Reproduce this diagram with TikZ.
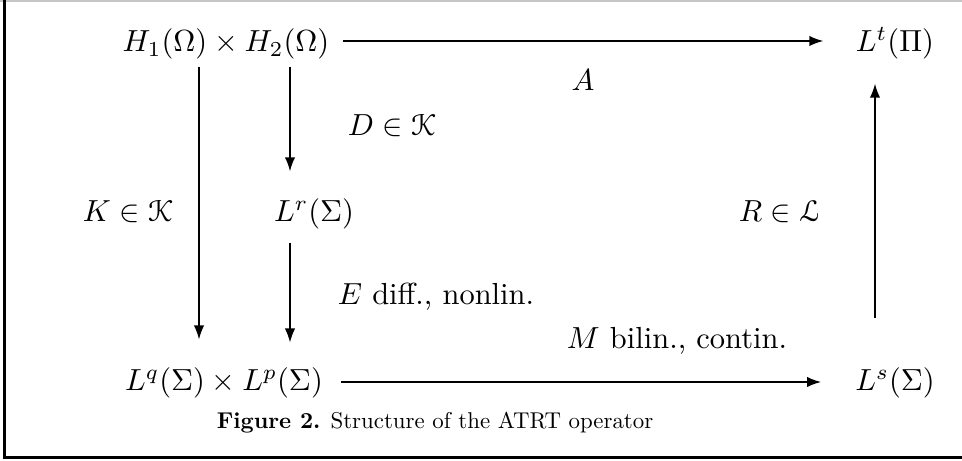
\documentclass[tikz,border=0pt]{standalone}
\usepackage{eucal}
\usetikzlibrary{arrows.meta,calc}
\begin{document}
\begin{tikzpicture}[x=0.328pt,y=-0.328pt,
  lbl/.style={inner sep=0pt, anchor=base},
  arr/.style={line width=0.5pt,-{Latex[length=4.6pt,width=3.4pt]}}]
\useasboundingbox (0,0) rectangle (962,461);
% frame
\draw[gray!45, line width=0.7pt] (0,0.6) -- (962,0.6);
\draw[line width=0.7pt] (4.5,0) -- (4.5,457.5) -- (962,457.5);
% spaces
\node[lbl] (H)   at (226,52)  {$H_1(\Omega)\times H_2(\Omega)$};
\node[lbl] (Lt)  at (895,52)  {$L^t(\Pi)$};
\node[lbl] (Lr)  at (314,222) {$L^r(\Sigma)$};
\node[lbl] (Lqp) at (224,391) {$L^q(\Sigma)\times L^p(\Sigma)$};
\node[lbl] (Ls)  at (895,391) {$L^s(\Sigma)$};
% labels
\node[lbl] (lA) at (583,91)  {$A$};
\node[lbl] (lD) at (392,136) {$D\in\mathcal{K}$};
\node[lbl] (lK) at (128,222) {$K\in\mathcal{K}$};
\node[lbl] (lR) at (780,222) {$R\in\mathcal{L}$};
\node[lbl] (lE) at (436,305) {$E$ diff., nonlin.};
\node[lbl] (lM) at (677,349) {$M$ bilin., contin.};
\node[lbl] (cap) at (435,429) {\scalebox{0.75}{\textbf{Figure 2.} Structure of the ATRT operator}};
% guide coordinates
\coordinate (ytop) at (0,41);
\coordinate (ybot) at (0,382);
\coordinate (xK) at (199,0);
\coordinate (xD) at (290,0);
\coordinate (xR) at (875,0);
% arrows
\draw[arr, shorten <=4.3pt, shorten >=10.5pt] (H.east |- ytop) -- (Lt.west |- ytop);
\draw[arr, shorten <=5.9pt, shorten >=11pt] (Lqp.east |- ybot) -- (Ls.west |- ybot);
\draw[arr, shorten <=2.1pt, shorten >=9.2pt] (H.south -| xK) -- (Lqp.north -| xK);
\draw[arr, shorten <=2.1pt, shorten >=8.9pt] (H.south -| xD) -- (Lr.north -| xD);
\draw[arr, shorten <=4.1pt, shorten >=8.2pt] (Lr.south -| xD) -- (Lqp.north -| xD);
\draw[arr, shorten <=16.4pt, shorten >=7.7pt] (Ls.north -| xR) -- (Lt.south -| xR);
\end{tikzpicture}
\end{document}
